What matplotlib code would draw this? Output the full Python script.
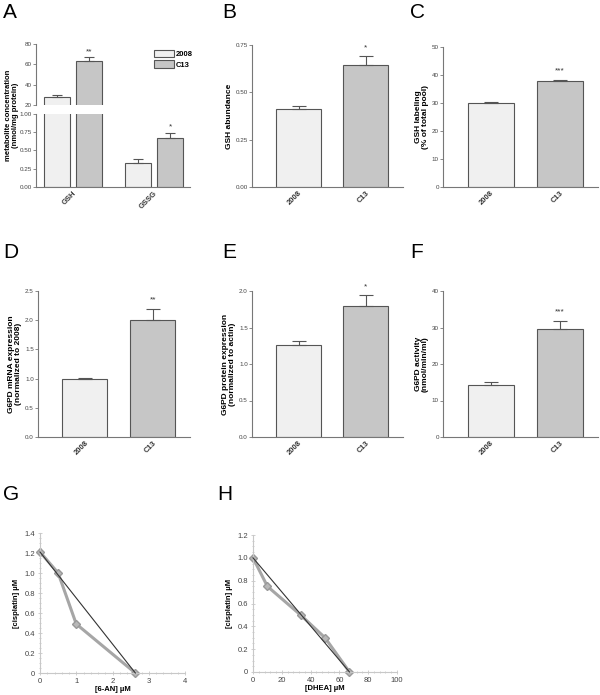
import numpy as np
import matplotlib
matplotlib.use("Agg")
from matplotlib import pyplot as plt
from matplotlib.ticker import AutoMinorLocator, FuncFormatter

plt.rcParams['font.family'] = ['Liberation Sans', 'DejaVu Sans']

# data
groups_a = ["GSH", "GSSG"]
gsh_2008, gsh_c13 = 28.0, 63.0
gsh_err_2008, gsh_err_c13 = 2.0, 4.0
gssg_2008, gssg_c13 = 0.33, 0.67
gssg_err_2008, gssg_err_c13 = 0.055, 0.075
sig_a = ["**", "*"]

cells = ["2008", "C13"]
b_vals = [0.41, 0.645]
b_err = [0.02, 0.045]
c_vals = [30.0, 38.0]
c_err = [0.5, 0.3]
d_vals = [1.0, 2.01]
d_err = [0.01, 0.19]
e_vals = [1.26, 1.80]
e_err = [0.06, 0.14]
f_vals = [14.2, 29.5]
f_err = [1.0, 2.3]

g_x = [0, 0.5, 1.0, 2.63]
g_y = [1.21, 1.0, 0.49, 0.0]
h_x = [0, 10, 33, 50, 67]
h_y = [1.0, 0.75, 0.5, 0.3, 0.0]

W, H = 600, 695
c_light = "#f0f0f0"
c_dark = "#c6c6c6"
edge = "#555555"
spine_c = "#777777"

fig = plt.figure(figsize=(6, 6.95), dpi=100)


def ax_px(left, right, top, bottom):
    return fig.add_axes([left / W, 1 - bottom / H, (right - left) / W, (bottom - top) / H])


def style_bar_axes(ax):
    for s in ["top", "right"]:
        ax.spines[s].set_visible(False)
    for s in ["left", "bottom"]:
        ax.spines[s].set_color(spine_c)
        ax.spines[s].set_linewidth(0.8)
    ax.tick_params(axis="y", labelsize=4.5, length=2, width=0.6, color=spine_c, labelcolor="#444", pad=1)
    ax.tick_params(axis="x", length=0, labelsize=5.5, pad=2)


def bar_panel(ax, vals, err, top, ticks, fmt, ylabel, sig):
    x = np.arange(len(vals))
    ax.bar(x, vals, width=0.667, color=[c_light, c_dark], edgecolor=edge, linewidth=0.8)
    ax.errorbar(x, vals, yerr=[[0, 0], err], fmt="none", ecolor=edge, elinewidth=0.8, capsize=5, capthick=0.8)
    ax.text(1, vals[1] + err[1] + top * 0.035, sig, ha="center", va="bottom", fontsize=6, color="#333")
    ax.set_xlim(-0.69, 1.55)
    ax.set_ylim(0, top)
    ax.set_yticks(ticks)
    ax.yaxis.set_major_formatter(FuncFormatter(lambda v, p: fmt.format(v)))
    ax.set_xticks(x)
    ax.set_xticklabels(cells, rotation=45, ha="right", rotation_mode="anchor", fontweight="bold", color="#333")
    ax.set_ylabel(ylabel, fontsize=6, fontweight="bold", linespacing=1.1, labelpad=2)
    style_bar_axes(ax)


# panel A (broken axis)
a_top = ax_px(36, 190, 44, 105)
a_bot = ax_px(36, 190, 114, 187)
xa = np.arange(len(groups_a))
off, bw = 0.2, 0.32
a_top.bar(xa[0] - off, gsh_2008, width=bw, color=c_light, edgecolor=edge, linewidth=0.8)
a_top.bar(xa[0] + off, gsh_c13, width=bw, color=c_dark, edgecolor=edge, linewidth=0.8)
a_top.errorbar([xa[0] - off, xa[0] + off], [gsh_2008, gsh_c13], yerr=[[0, 0], [gsh_err_2008, gsh_err_c13]],
               fmt="none", ecolor=edge, elinewidth=0.8, capsize=3.5, capthick=0.8)
a_top.text(xa[0] + off, gsh_c13 + gsh_err_c13 + 2, sig_a[0], ha="center", va="bottom", fontsize=6, color="#333")
a_top.set_ylim(20, 80)
a_top.set_yticks([20, 40, 60, 80])
a_top.set_xlim(-0.457, 1.444)
a_top.set_xticks([])
for s in ["top", "right", "bottom"]:
    a_top.spines[s].set_visible(False)
a_top.spines["left"].set_color(spine_c)
a_top.spines["left"].set_linewidth(0.8)
a_top.tick_params(axis="y", labelsize=4.5, length=2, width=0.6, color=spine_c, labelcolor="#444", pad=1)

# GSH bars carried on below the break
a_bot.bar(xa[0] - off, 1.2, width=bw, color=c_light, edgecolor=edge, linewidth=0.8)
a_bot.bar(xa[0] + off, 1.2, width=bw, color=c_dark, edgecolor=edge, linewidth=0.8)
a_bot.bar(xa[1] - off, gssg_2008, width=bw, color=c_light, edgecolor=edge, linewidth=0.8, label="2008")
a_bot.bar(xa[1] + off, gssg_c13, width=bw, color=c_dark, edgecolor=edge, linewidth=0.8, label="C13")
a_bot.errorbar([xa[1] - off, xa[1] + off], [gssg_2008, gssg_c13], yerr=[[0, 0], [gssg_err_2008, gssg_err_c13]],
               fmt="none", ecolor=edge, elinewidth=0.8, capsize=3.5, capthick=0.8)
a_bot.text(xa[1] + off, gssg_c13 + gssg_err_c13 + 0.03, sig_a[1], ha="center", va="bottom", fontsize=6, color="#333")
a_bot.set_ylim(0, 1.0)
a_bot.set_yticks([0, 0.25, 0.5, 0.75, 1.0])
a_bot.yaxis.set_major_formatter(FuncFormatter(lambda v, p: "{:.2f}".format(v)))
a_bot.set_xlim(-0.457, 1.444)
a_bot.set_xticks(xa)
a_bot.set_xticklabels(groups_a, rotation=45, ha="right", rotation_mode="anchor", fontweight="bold", color="#333")
style_bar_axes(a_bot)
fig.text(12 / W, 1 - 115 / H, "metabolite concentration\n(nmol/mg protein)", rotation=90, fontsize=5.5,
         fontweight="bold", ha="center", va="center", linespacing=1.1)
leg = a_top.legend(handles=a_bot.patches[2:4], labels=["2008", "C13"], loc="upper right",
                   bbox_to_anchor=(1.04, 0.95), frameon=False, fontsize=5.5, handlelength=2.6,
                   handleheight=1.1, labelspacing=0.25, handletextpad=0.3, borderaxespad=0)
for t in leg.get_texts():
    t.set_fontweight("bold")

# panels B-F
ax_b = ax_px(252, 403, 45, 187)
bar_panel(ax_b, b_vals, b_err, 0.75, [0, 0.25, 0.5, 0.75], "{:.2f}", "GSH abundance", "*")
ax_c = ax_px(443, 598, 47, 187)
bar_panel(ax_c, c_vals, c_err, 50, [0, 10, 20, 30, 40, 50], "{:.0f}", "GSH labeling\n(% of total pool)", "***")
ax_d = ax_px(38, 190, 291, 437)
bar_panel(ax_d, d_vals, d_err, 2.5, [0, 0.5, 1.0, 1.5, 2.0, 2.5], "{:.1f}",
          "G6PD mRNA expression\n(normalized to 2008)", "**")
ax_e = ax_px(252, 403, 291, 437)
bar_panel(ax_e, e_vals, e_err, 2.0, [0, 0.5, 1.0, 1.5, 2.0], "{:.1f}",
          "G6PD protein expression\n(normalized to actin)", "*")
ax_f = ax_px(443, 598, 291, 437)
bar_panel(ax_f, f_vals, f_err, 40, [0, 10, 20, 30, 40], "{:.0f}", "G6PD activity\n(nmol/min/ml)", "***")


# isobologram panels
def iso_panel(ax, x, y, xmax, xticks, ymax, yticks, xlabel):
    ax.plot([x[0], x[-1]], [y[0], y[-1]], color="#333333", linewidth=0.8, zorder=3)
    ax.plot(x, y, color="#a6a6a6", linewidth=2.2, marker="D", markersize=4,
            markerfacecolor="#b8b8b8", markeredgecolor="#999999", zorder=2)
    ax.set_xlim(0, xmax)
    ax.set_ylim(0, ymax)
    ax.set_xticks(xticks)
    ax.set_yticks(yticks)
    ax.yaxis.set_major_formatter(FuncFormatter(lambda v, p: "0" if v == 0 else "{:.1f}".format(v)))
    ax.xaxis.set_minor_locator(AutoMinorLocator(5))
    ax.yaxis.set_minor_locator(AutoMinorLocator(4))
    for s in ["top", "right"]:
        ax.spines[s].set_visible(False)
    for s in ["left", "bottom"]:
        ax.spines[s].set_color("#c8c8c8")
        ax.spines[s].set_linewidth(0.8)
    ax.tick_params(which="both", direction="inout", color="#c8c8c8", width=0.6, labelsize=5.5,
                   labelcolor="#444", pad=2)
    ax.tick_params(which="major", length=3)
    ax.tick_params(which="minor", length=2)
    ax.set_xlabel(xlabel, fontsize=5.5, fontweight="bold", labelpad=1)
    ax.set_ylabel("[cisplatin] \u00b5M", fontsize=5.5, fontweight="bold", labelpad=3)
    for ln in ax.lines:
        ln.set_clip_on(False)


ax_g = ax_px(40, 185, 533, 673)
iso_panel(ax_g, g_x, g_y, 4, [0, 1, 2, 3, 4], 1.4, np.arange(0, 1.41, 0.2), "[6-AN] \u00b5M")
ax_h = ax_px(253, 397, 535, 672)
iso_panel(ax_h, h_x, h_y, 100, [0, 20, 40, 60, 80, 100], 1.2, np.arange(0, 1.21, 0.2), "[DHEA] \u00b5M")

# panel letters
for lab, px, py in [("A", 3, 12), ("B", 222, 12), ("C", 410, 12),
                    ("D", 3, 253), ("E", 222, 253), ("F", 410, 253),
                    ("G", 3, 495), ("H", 217, 495)]:
    fig.text(px / W, 1 - py / H, lab, fontsize=15, ha="left", va="center")

fig.savefig("out.png", dpi=100, facecolor="white")
